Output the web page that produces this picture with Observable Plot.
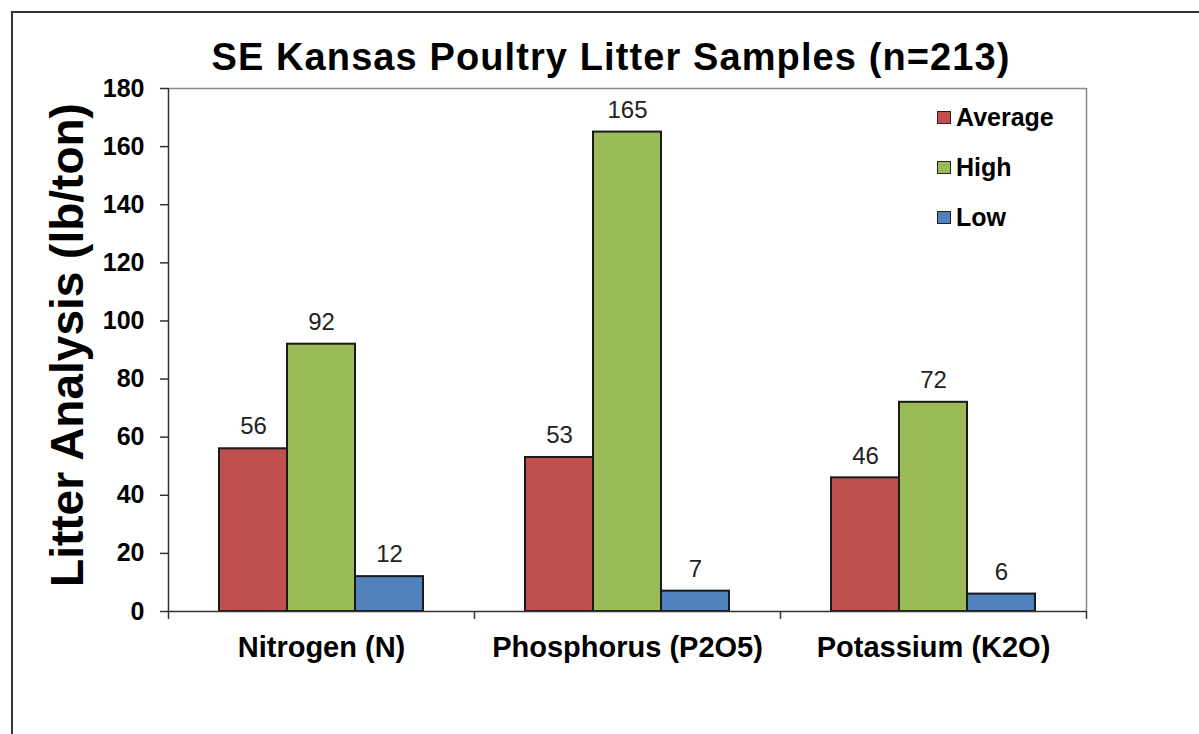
<!DOCTYPE html>
<html>
<head>
<meta charset="utf-8">
<script src="https://cdn.jsdelivr.net/npm/d3@7"></script>
<script src="https://cdn.jsdelivr.net/npm/@observablehq/plot@0.6"></script>
<style>
  html, body { margin: 0; padding: 0; background: #fff; }
  #wrap { position: relative; width: 1199px; height: 734px; overflow: hidden; font-family: "Liberation Sans", Arial, sans-serif; }
  #border { position: absolute; left: 11px; top: 11px; width: 1400px; height: 1000px; border-left: 2px solid #333; border-top: 2px solid #333; }
  #title { position: absolute; left: 0; width: 1222px; top: 36px; text-align: center; font-weight: bold; font-size: 38px; letter-spacing: 1.1px; color: #000; }
  #ytitle { position: absolute; left: 67px; top: 345px; transform: translate(-50%, -50%) rotate(-90deg); white-space: nowrap; font-weight: bold; font-size: 46px; color: #000; }
  #legend { position: absolute; left: 937px; top: 103px; }
  .li { position: absolute; left: 0; white-space: nowrap; font-weight: bold; font-size: 25px; color: #000; }
  .sw { display: inline-block; width: 12px; height: 11px; border: 1.5px solid #222; vertical-align: middle; margin-right: 5px; position: relative; top: -2px; }
  svg { position: absolute; left: 0; top: 0; overflow: visible; }
</style>
</head>
<body>
<div id="wrap">
  <div id="border"></div>
  <div id="chart"></div>
  <div id="title">SE Kansas Poultry Litter Samples (n=213)</div>
  <div id="ytitle">Litter Analysis (lb/ton)</div>
  <div id="legend"></div>
</div>
<script>
const categories = ["Nitrogen (N)", "Phosphorus (P2O5)", "Potassium (K2O)"];
const series = ["Average", "High", "Low"];
const averageValues = [56, 53, 46];
const highValues = [92, 165, 72];
const lowValues = [12, 7, 6];
const yTicks = [0, 20, 40, 60, 80, 100, 120, 140, 160, 180];
const colors = ["#C0504D", "#9BBB59", "#4F81BD"];

const seriesValues = [averageValues, highValues, lowValues];
const data = [];
categories.forEach((c, i) => {
  series.forEach((s, j) => data.push({category: c, series: s, value: seriesValues[j][i]}));
});

const chart = Plot.plot({
  width: 1199,
  height: 734,
  marginLeft: 168,
  marginRight: 113,
  marginTop: 88,
  marginBottom: 123,
  style: {fontFamily: "'Liberation Sans', Arial, sans-serif", color: "#000", background: "transparent", overflow: "visible"},
  fx: {domain: categories, padding: 0},
  x: {domain: series, paddingInner: 0, paddingOuter: 0.75, axis: null},
  y: {domain: [0, 180], axis: null},
  color: {domain: series, range: colors},
  marks: [
    Plot.ruleY([180], {stroke: "#8a8a8a", strokeWidth: 1.5}),
    Plot.ruleX([categories[2]], {fx: d => d, x: () => series[2], y1: 0, y2: 180, dx: 85, stroke: "#8a8a8a", strokeWidth: 1.5}),
    Plot.barY(data, {fx: "category", x: "series", y: "value", fill: "series", stroke: "#1a1a1a", strokeWidth: 2}),
    Plot.ruleY([0], {stroke: "#333", strokeWidth: 1.5}),
    Plot.ruleX(categories, {fx: d => d, x: () => series[0], y1: -2.75, y2: 0, dx: -85, stroke: "#333", strokeWidth: 1.5, clip: false}),
    Plot.ruleX([categories[0]], {fx: d => d, x: () => series[0], y1: 0, y2: 180, dx: -85, stroke: "#333", strokeWidth: 1.5}),
    Plot.ruleX([categories[2]], {fx: d => d, x: () => series[2], y1: -2.75, y2: 0, dx: 85, stroke: "#333", strokeWidth: 1.5, clip: false}),
    Plot.text(data, {fx: "category", x: "series", y: "value", text: d => String(d.value), dy: -22, fontSize: 24, fill: "#222"}),
    Plot.axisY({ticks: yTicks, tickSize: 8, tickPadding: 16, fontSize: 25, fontWeight: "bold", label: null, stroke: "#333", strokeWidth: 1.5}),
    Plot.axisFx({anchor: "bottom", tickSize: 0, tickPadding: 25, fontSize: 29, fontWeight: "bold", label: null})
  ]
});
document.getElementById("chart").appendChild(chart);

const legend = document.getElementById("legend");
series.forEach((s, i) => {
  const el = document.createElement("div");
  el.className = "li";
  el.style.top = (i * 50) + "px";
  el.innerHTML = `<span class="sw" style="background:${colors[i]}"></span>${s}`;
  legend.appendChild(el);
});
</script>
</body>
</html>
